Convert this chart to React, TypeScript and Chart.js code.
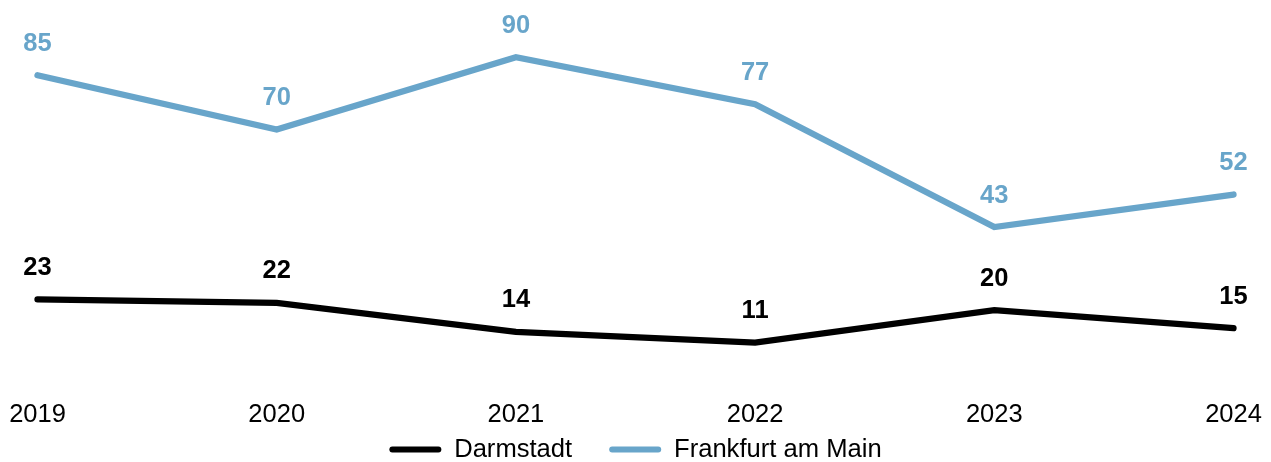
import React, { useEffect, useRef } from "react";
import { Chart, registerables } from "chart.js";

Chart.register(...registerables);

const years = ["2019", "2020", "2021", "2022", "2023", "2024"];
const darmstadt = [23, 22, 14, 11, 20, 15];
const frankfurt = [85, 70, 90, 77, 43, 52];
const seriesNames = ["Darmstadt", "Frankfurt am Main"];
const seriesColors = ["#000000", "#68a5ca"];

const FONT = "'Liberation Sans', Arial, Helvetica, sans-serif";

const valueLabels = {
  id: "valueLabels",
  afterDatasetsDraw(chart: any) {
    const ctx = chart.ctx;
    ctx.save();
    ctx.font = `bold 25.5px ${FONT}`;
    ctx.textAlign = "center";
    ctx.textBaseline = "alphabetic";
    chart.data.datasets.forEach((ds: any, di: number) => {
      const meta = chart.getDatasetMeta(di);
      if (meta.hidden) return;
      ctx.fillStyle = ds.borderColor;
      meta.data.forEach((pt: any, i: number) => {
        ctx.fillText(String(ds.data[i]), pt.x, pt.y - 24.5);
      });
    });
    ctx.restore();
  },
};

export default function App() {
  const ref = useRef<HTMLCanvasElement>(null);

  useEffect(() => {
    document.body.style.margin = "0";
    const canvas = ref.current!;
    const chart = new Chart(canvas, {
      type: "line",
      data: {
        labels: years,
        datasets: [
          {
            label: seriesNames[0],
            data: darmstadt,
            borderColor: seriesColors[0],
            backgroundColor: seriesColors[0],
            borderWidth: 6.3,
            borderCapStyle: "round",
            pointRadius: 0,
            tension: 0,
            clip: false as any,
          },
          {
            label: seriesNames[1],
            data: frankfurt,
            borderColor: seriesColors[1],
            backgroundColor: seriesColors[1],
            borderWidth: 6.3,
            borderCapStyle: "round",
            pointRadius: 0,
            tension: 0,
            clip: false as any,
          },
        ],
      },
      options: {
        animation: false,
        responsive: false,
        maintainAspectRatio: false,
        events: [],
        layout: { padding: { top: 21.1, left: 37.5, right: 37.5, bottom: 0 } },
        font: { family: FONT },
        scales: {
          x: {
            grid: { display: false, drawTicks: true, tickLength: 11.8 },
            border: { display: false },
            ticks: {
              color: "#000",
              font: { size: 25.5, family: FONT },
              padding: 5,
              autoSkip: false,
              maxRotation: 0,
            },
            afterFit: (scale: any) => {
              scale.height = 17.3;
              scale._computeLabelArea = () => undefined;
            },
          },
          y: {
            display: false,
            min: 0,
            max: 100,
          },
        },
        plugins: {
          tooltip: { enabled: false },
          legend: {
            position: "bottom",
            maxHeight: 62.3,
            labels: {
              color: "#000",
              font: { size: 25.6, family: FONT },
              boxWidth: 52,
              boxHeight: 6,
              padding: 37,
              useBorderRadius: true,
              borderRadius: 3,
              generateLabels: (c: any) =>
                Chart.defaults.plugins.legend.labels
                  .generateLabels(c)
                  .map((it: any) => ({
                    ...it,
                    lineWidth: 0,
                    fillStyle: c.data.datasets[it.datasetIndex].borderColor,
                    borderRadius: 3,
                  })),
            },
          },
        },
      } as any,
      plugins: [valueLabels],
    });
    return () => chart.destroy();
  }, []);

  return (
    <div style={{ width: 1271, height: 462 }}>
      <canvas ref={ref} width={1271} height={462} style={{ display: "block" }} />
    </div>
  );
}
